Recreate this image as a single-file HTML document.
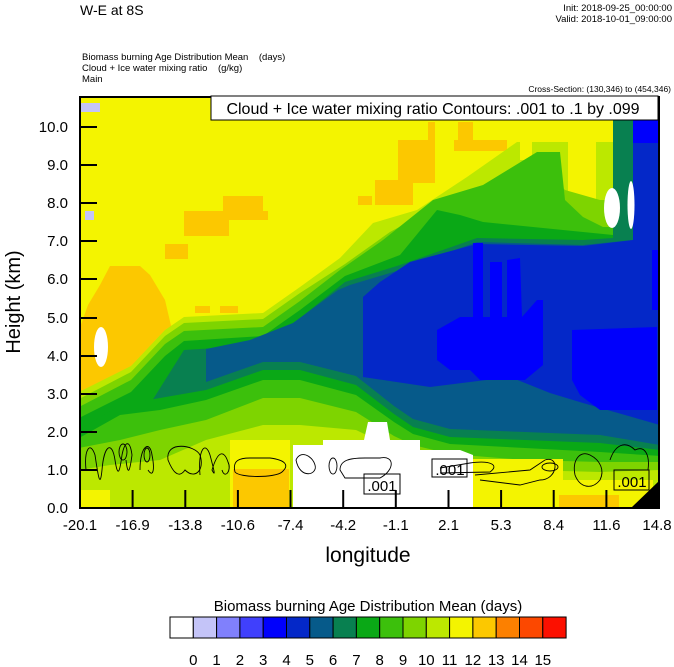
<!DOCTYPE html>
<html><head><meta charset="utf-8"><style>
body{margin:0;background:#fff;width:674px;height:667px;overflow:hidden}
svg{display:block}
text{font-family:"Liberation Sans",sans-serif}
</style></head><body>
<svg width="674" height="667" viewBox="0 0 674 667" xmlns="http://www.w3.org/2000/svg">
<text x="80" y="15" font-size="14">W-E at 8S</text>
<text x="672" y="11" font-size="9.5" text-anchor="end">Init: 2018-09-25_00:00:00</text>
<text x="672" y="22" font-size="9.5" text-anchor="end">Valid: 2018-10-01_09:00:00</text>
<text x="82" y="60" font-size="9.5" xml:space="preserve">Biomass burning Age Distribution Mean    (days)</text>
<text x="82" y="71" font-size="9.5" xml:space="preserve">Cloud + Ice water mixing ratio    (g/kg)</text>
<text x="82" y="82" font-size="9.5">Main</text>
<text x="671" y="92" font-size="8.5" text-anchor="end">Cross-Section: (130,346) to (454,346)</text>
<defs><clipPath id="c"><rect x="80" y="97" width="579" height="411"/></clipPath></defs>
<g clip-path="url(#c)">
<rect x="80" y="97" width="579" height="411" fill="#f4f400"/>
<g fill="#fcc800">
<rect x="165" y="244" width="23" height="15"/><rect x="184" y="211" width="45" height="25"/>
<rect x="189" y="211" width="79" height="9"/><rect x="223" y="196" width="40" height="15"/>
<rect x="375" y="180" width="38" height="25"/><rect x="398" y="140" width="37" height="43"/>
<rect x="428" y="122" width="7" height="18"/><rect x="454" y="140" width="53" height="11"/>
<rect x="458" y="122" width="15" height="18"/><rect x="358" y="196" width="14" height="9"/>
<rect x="195" y="306" width="15" height="7"/><rect x="220" y="306" width="18" height="7"/>
<polygon points="79,330 88,305 100,285 110,266 140,266 150,275 165,300 172,330 165,355 150,372 130,380 110,395 95,405 79,410"/>
</g>
<polygon fill="#bce800" points="79,392 131,366 165,330 184,317 263,313 300,287 340,258 373,223 417,210 467,177 517,142 613,142 613,116 660,116 660,510 79,510"/>
<g fill="#f4f400"><rect x="568" y="140" width="28" height="62"/><rect x="520" y="140" width="12" height="20"/></g>
<polygon fill="#7ed400" points="79,399 131,372 165,336 184,323 263,319 300,293 345,264 390,232 440,205 500,180 545,170 565,190 600,200 613,200 613,116 660,116 660,510 79,510"/>
<polygon fill="#3cc00c" points="79,407 131,380 165,344 184,331 263,327 300,301 340,270 383,240 433,200 483,185 537,152 560,152 565,200 583,217 603,227 613,227 613,116 660,116 660,510 79,510"/>
<polygon fill="#0aa816" points="79,418 131,392 165,356 184,341 263,336 300,310 345,276 400,255 437,210 460,215 483,222 583,232 613,235 613,116 660,116 660,510 79,510"/>
<polygon fill="#088050" points="140,420 184,350 263,345 300,318 345,282 400,265 477,238 583,240 613,238 613,116 660,116 660,510 140,510"/>
<polygon fill="#065a8a" points="206,349 250,340 293,323 338,290 350,285 400,270 477,242 583,245 633,240 633,116 660,116 660,445 600,435 525,432 450,429 413,419 394,406 356,376 300,362 263,362 206,382"/>
<polygon fill="#0aa816" points="79,430 120,405 160,398 206,390 263,370 300,370 356,385 394,414 413,427 450,437 525,440 600,443 660,450 660,510 79,510"/>
<polygon fill="#3cc00c" points="79,438 120,415 160,410 206,400 263,380 300,380 356,395 394,422 413,434 450,444 525,448 600,452 660,456 660,510 79,510"/>
<polygon fill="#7ed400" points="79,448 120,440 160,430 206,420 263,398 300,398 356,412 394,436 413,445 450,454 525,460 600,462 660,462 660,510 79,510"/>
<polygon fill="#bce800" points="79,470 110,465 160,460 206,440 263,425 300,425 356,430 394,448 413,455 450,462 525,470 600,472 660,470 660,510 79,510"/>
<polygon fill="#0428c8" points="363,297 380,282 410,262 477,244 583,246 633,240 633,116 660,116 660,425 583,403 550,393 510,377 430,387 363,377"/>
<g fill="#0000fc">
<polygon points="437,330 460,317 473,317 473,243 483,243 483,317 490,317 490,262 502,262 502,317 507,317 507,260 520,258 522,317 537,300 543,300 543,365 525,380 480,380 470,370 450,370 437,360"/>
<polygon points="572,330 657,327 657,410 600,410 580,395 572,380"/>
<rect x="633" y="120" width="26" height="23"/>
<rect x="652" y="250" width="7" height="60"/>
</g>
<g fill="#f4f400"><rect x="230" y="440" width="60" height="68"/><rect x="473" y="459" width="90" height="49"/><rect x="563" y="480" width="90" height="28"/><rect x="80" y="490" width="30" height="18"/></g>
<g fill="#fcc800"><rect x="233" y="469" width="56" height="39"/><rect x="559" y="495" width="60" height="13"/></g>
<polygon fill="#fff" points="293,508 293,445 323,445 323,440 364,440 368,422 387,422 390,440 420,440 420,450 460,450 473,455 473,508"/>
<polygon fill="#000" points="631,508 660,480 660,508"/>
<g fill="#fff"><ellipse cx="101" cy="347" rx="7" ry="20"/><ellipse cx="612" cy="208" rx="8" ry="20"/><ellipse cx="631" cy="205" rx="3.5" ry="24"/></g>
<g fill="#c4c4f8"><rect x="80" y="103" width="20" height="9"/><rect x="85" y="211" width="9" height="9"/></g>
<g fill="none" stroke="#000" stroke-width="0.9">
<path d="M86,470 C84,450 90,440 95,455 C98,475 100,490 102,470 C104,445 112,440 115,460 C118,480 120,470 122,455 C125,440 130,440 132,455 C130,470 128,478 126,460"/>
<ellipse cx="123" cy="452" rx="4" ry="8"/>
<path d="M140,470 C140,445 150,440 152,455 C155,470 153,478 148,470"/><ellipse cx="147" cy="455" rx="3" ry="7"/>
<path d="M168,460 C165,440 195,445 200,455 C205,470 195,480 185,470 C178,480 172,470 168,460"/>
<path d="M200,475 C198,450 205,440 210,455 C214,470 216,478 212,470 C218,450 224,450 228,462 C232,470 225,480 222,470"/>
<path d="M235,472 C232,460 240,458 250,458 L270,458 C285,460 290,465 282,472 C275,478 240,478 235,472 Z"/>
<path d="M296,460 C300,450 312,455 315,465 C318,475 300,480 296,460 Z"/>
<ellipse cx="333" cy="466" rx="4" ry="8"/>
<path d="M340,470 C340,460 350,458 365,458 L380,458 C395,455 395,470 380,478 L345,478 Z"/>
<path d="M440,468 L470,463 C490,460 500,465 490,472 L440,473"/>
<path d="M475,475 L530,470 L545,460 C560,455 558,480 540,480 L520,485 L480,480"/>
<ellipse cx="550" cy="467" rx="8" ry="4"/>
<path d="M575,475 C572,460 580,450 590,455 C600,460 605,470 600,480 C592,490 580,488 575,475 Z"/>
<path d="M610,460 C615,445 625,440 635,450 C645,445 650,455 648,470"/>
</g>
<g font-size="15" text-anchor="middle">
<rect x="364" y="474" width="36" height="20" fill="none" stroke="#000"/><text x="382" y="491">.001</text>
<rect x="432" y="459" width="35" height="18" fill="none" stroke="#000"/><text x="450" y="475">.001</text>
<rect x="614" y="470" width="35" height="20" fill="none" stroke="#000"/><text x="632" y="487">.001</text>
</g>
</g>
<rect x="80" y="97" width="579" height="411" fill="none" stroke="#000" stroke-width="2"/>
<rect x="211" y="96" width="447" height="24" fill="#fff" stroke="#000" stroke-width="1"/>
<text x="433" y="114" font-size="16" text-anchor="middle">Cloud + Ice water mixing ratio Contours: .001 to .1 by .099</text>
<g stroke="#000" stroke-width="2">
<line x1="80" x2="97" y1="127" y2="127"/><line x1="80" x2="97" y1="165" y2="165"/><line x1="80" x2="97" y1="203" y2="203"/><line x1="80" x2="97" y1="241" y2="241"/><line x1="80" x2="97" y1="279" y2="279"/><line x1="80" x2="97" y1="318" y2="318"/><line x1="80" x2="97" y1="356" y2="356"/><line x1="80" x2="97" y1="394" y2="394"/><line x1="80" x2="97" y1="432" y2="432"/><line x1="80" x2="97" y1="470" y2="470"/>
<line y1="508" y2="490" x1="132.6" x2="132.6"/><line y1="508" y2="490" x1="185.3" x2="185.3"/><line y1="508" y2="490" x1="237.9" x2="237.9"/><line y1="508" y2="490" x1="290.5" x2="290.5"/><line y1="508" y2="490" x1="343.2" x2="343.2"/><line y1="508" y2="490" x1="395.8" x2="395.8"/><line y1="508" y2="490" x1="448.5" x2="448.5"/><line y1="508" y2="490" x1="501.1" x2="501.1"/><line y1="508" y2="490" x1="553.7" x2="553.7"/><line y1="508" y2="490" x1="606.4" x2="606.4"/>
</g>
<g font-size="15" text-anchor="end">
<text x="68" y="132">10.0</text><text x="68" y="170">9.0</text><text x="68" y="208">8.0</text><text x="68" y="246">7.0</text><text x="68" y="284">6.0</text><text x="68" y="323">5.0</text><text x="68" y="361">4.0</text><text x="68" y="399">3.0</text><text x="68" y="437">2.0</text><text x="68" y="475">1.0</text><text x="68" y="513">0.0</text>
</g>
<g font-size="15" text-anchor="middle">
<text x="80" y="530">-20.1</text><text x="132.6" y="530">-16.9</text><text x="185.3" y="530">-13.8</text><text x="237.9" y="530">-10.6</text><text x="290.5" y="530">-7.4</text><text x="343.2" y="530">-4.2</text><text x="395.8" y="530">-1.1</text><text x="448.5" y="530">2.1</text><text x="501.1" y="530">5.3</text><text x="553.7" y="530">8.4</text><text x="606.4" y="530">11.6</text><text x="657" y="530">14.8</text>
</g>
<text x="368" y="562" font-size="21" text-anchor="middle">longitude</text>
<text transform="translate(20,302) rotate(-90)" font-size="20" text-anchor="middle">Height (km)</text>
<text x="368" y="611" font-size="15" text-anchor="middle">Biomass burning Age Distribution Mean  (days)</text>
<g stroke="#000" stroke-width="1">
<rect x="170" y="617" width="23.3" height="21" fill="#fff"/>
<rect x="193.3" y="617" width="23.3" height="21" fill="#c4c4f8"/>
<rect x="216.6" y="617" width="23.3" height="21" fill="#8080fc"/>
<rect x="239.9" y="617" width="23.3" height="21" fill="#4040fc"/>
<rect x="263.2" y="617" width="23.3" height="21" fill="#0000fc"/>
<rect x="286.5" y="617" width="23.3" height="21" fill="#0428c8"/>
<rect x="309.8" y="617" width="23.3" height="21" fill="#065a8a"/>
<rect x="333.1" y="617" width="23.3" height="21" fill="#088050"/>
<rect x="356.4" y="617" width="23.3" height="21" fill="#0aa816"/>
<rect x="379.7" y="617" width="23.3" height="21" fill="#3cc00c"/>
<rect x="403" y="617" width="23.3" height="21" fill="#7ed400"/>
<rect x="426.3" y="617" width="23.3" height="21" fill="#bce800"/>
<rect x="449.6" y="617" width="23.3" height="21" fill="#f4f400"/>
<rect x="472.9" y="617" width="23.3" height="21" fill="#fcc800"/>
<rect x="496.2" y="617" width="23.3" height="21" fill="#fc8000"/>
<rect x="519.5" y="617" width="23.3" height="21" fill="#fc4800"/>
<rect x="542.8" y="617" width="23.3" height="21" fill="#fc1000"/>
</g>
<g font-size="15" text-anchor="middle">
<text x="193.3" y="665">0</text><text x="216.6" y="665">1</text><text x="239.9" y="665">2</text><text x="263.2" y="665">3</text><text x="286.5" y="665">4</text><text x="309.8" y="665">5</text><text x="333.1" y="665">6</text><text x="356.4" y="665">7</text><text x="379.7" y="665">8</text><text x="403" y="665">9</text><text x="426.3" y="665">10</text><text x="449.6" y="665">11</text><text x="472.9" y="665">12</text><text x="496.2" y="665">13</text><text x="519.5" y="665">14</text><text x="542.8" y="665">15</text>
</g>
</svg>
</body></html>
